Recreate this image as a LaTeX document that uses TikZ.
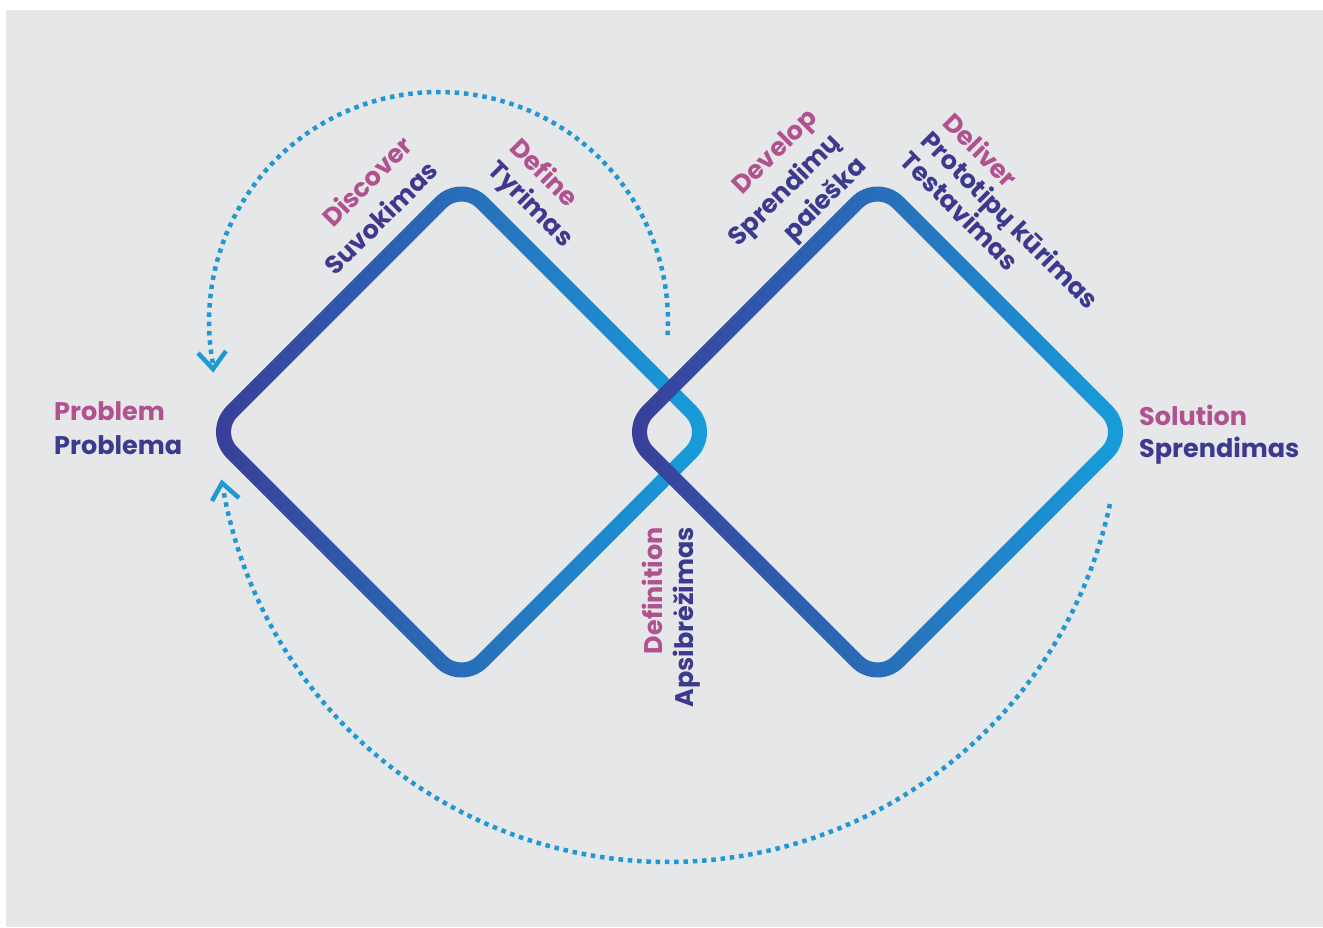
\documentclass[tikz,border=0pt]{standalone}
\usepackage{fontspec}
\setmainfont{Poppins}
\usetikzlibrary{arrows.meta,calc}
\definecolor{bg}{HTML}{E6E7E8}
\definecolor{darkb}{HTML}{3A3C97}
\definecolor{cyanb}{HTML}{16A0DC}
\definecolor{pinkt}{HTML}{B2518F}
\definecolor{navyt}{HTML}{3C3A8F}
\definecolor{dotc}{HTML}{1F98D3}
\begin{document}
\begin{tikzpicture}[x=1pt,y=-1pt,
  lbl/.style={font=\fontsize{25.5}{30}\selectfont\bfseries, inner sep=0pt, text height=18.5pt, text depth=0pt},
  en/.style={lbl, text=pinkt},
  lt/.style={lbl, text=navyt},
  ring/.style={left color=darkb, right color=cyanb, even odd rule},
  cyc/.style={draw=dotc, line width=4.5pt, dash pattern=on 4.5pt off 4.8pt},
  chev/.style={draw=dotc, line width=4.5pt, line join=miter, line cap=butt}
]
\useasboundingbox (0,0) rectangle (1323,927);
\fill[white] (0,0) rectangle (1323,927);
\fill[bg] (6,10) rectangle (1323,927);

% left diamond
\shade[ring]
  [rounded corners=36.5pt] (461.5-130.3,432-130.3) -- (461.5,432-260.6) -- (461.5+260.6,432) -- (461.5,432+260.6) -- (461.5-260.6,432) -- cycle
  [rounded corners=21.5pt] (461.5-119.7,432-119.7) -- (461.5,432-239.4) -- (461.5+239.4,432) -- (461.5,432+239.4) -- (461.5-239.4,432) -- cycle;
% right diamond
\shade[ring]
  [rounded corners=36.5pt] (877.5-130.3,432-130.3) -- (877.5,432-260.6) -- (877.5+260.6,432) -- (877.5,432+260.6) -- (877.5-260.6,432) -- cycle
  [rounded corners=21.5pt] (877.5-119.7,432-119.7) -- (877.5,432-239.4) -- (877.5+239.4,432) -- (877.5,432+239.4) -- (877.5-239.4,432) -- cycle;

% cycle arrows
\coordinate (utip) at (213,369);
\coordinate (ltip) at (222,483);
\draw[cyc] plot[domain=3.4:-190.6, samples=120] ({438.5+229.5*cos(\x)},{321.5+229.5*sin(\x)});
\draw[cyc] plot[domain=11.98:169.9, samples=160] ({668+451.8*cos(\x)},{410.2+451.8*sin(\x)});
\draw[chev] ($(utip)+(-15,-16)$) -- (utip) -- ($(utip)+(13,-18)$);
\draw[chev] ($(ltip)+(-10,18)$) -- (ltip) -- ($(ltip)+(17,15)$);

% labels
\node[en, anchor=west] (prob) at (54,411.5) {Problem};
\node[lt, anchor=west] (probl) at (54,445) {Problema};
\node[en, anchor=west] (sol) at (1139,416) {Solution};
\node[lt, anchor=west] (solt) at (1139,448.5) {Sprendimas};

\node[en, anchor=east, rotate=45] (disc) at (408,141) {Discover};
\node[lt, anchor=east, rotate=45] (disct) at (433,166) {Suvokimas};

\node[en, anchor=west, rotate=-45] (def) at (515,143) {Define};
\node[lt, anchor=west, rotate=-45] (deft) at (493,165) {Tyrimas};

\node[en, anchor=east, rotate=45] (dev) at (812,113) {Develop};
\node[lt, anchor=east, rotate=45] (devt1) at (835.5,138) {Sprendimų};
\node[lt, anchor=east, rotate=45] (devt2) at (861,161) {paieška};

\node[en, anchor=west, rotate=-45] (del) at (948,118) {Deliver};
\node[lt, anchor=west, rotate=-45] (delt1) at (926,136) {Prototipų kūrimas};
\node[lt, anchor=west, rotate=-45] (delt2) at (905,156) {Testavimas};

\node[en, anchor=east, rotate=90] (dfn) at (653.5,527) {Definition};
\node[lt, anchor=east, rotate=90] (dfnt) at (684,527) {Apsibrėžimas};
\end{tikzpicture}
\end{document}
